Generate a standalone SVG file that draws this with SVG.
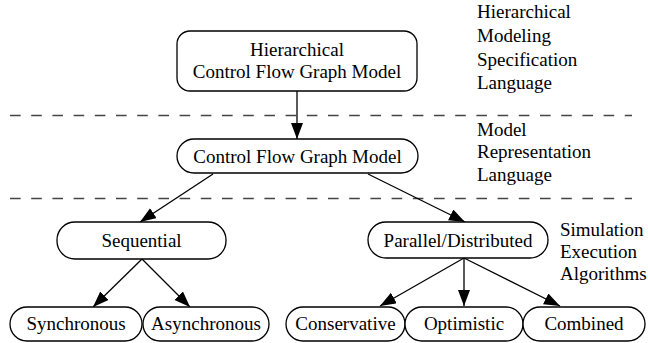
<svg xmlns="http://www.w3.org/2000/svg" width="648" height="343" viewBox="0 0 648 343">
<style>
.n{fill:#fff;stroke:#000;stroke-width:1.3}
text{font-family:"Liberation Serif","Times New Roman",Times,serif;font-size:19px;fill:#000}
.c{text-anchor:middle}
.e{stroke:#000;stroke-width:1.3;fill:none;marker-end:url(#ah)}
.d{stroke:#444;stroke-width:1.3;stroke-dasharray:10.6 10.6}
</style>
<defs>
<marker id="ah" markerUnits="userSpaceOnUse" markerWidth="18" markerHeight="14" refX="16" refY="6" orient="auto">
<path d="M0,0 L16,6 L0,12 z" fill="#000"/>
</marker>
</defs>
<rect width="648" height="343" fill="#fff"/>
<g id="separators">
<line class="d" x1="10" y1="115.5" x2="632" y2="115.5"/>
<line class="d" x1="10" y1="198.5" x2="632" y2="198.5"/>
</g>
<g id="labels">
<text x="477" y="18">Hierarchical</text>
<text x="477" y="42">Modeling</text>
<text x="477" y="66">Specification</text>
<text x="477" y="89">Language</text>
<text x="477" y="136">Model</text>
<text x="477" y="158">Representation</text>
<text x="477" y="181">Language</text>
<text x="560" y="236">Simulation</text>
<text x="560" y="258">Execution</text>
<text x="560" y="280">Algorithms</text>
</g>
<g id="connectors">
<line class="e" x1="297" y1="91" x2="297" y2="139"/>
<line class="e" x1="213" y1="174" x2="140" y2="222"/>
<line class="e" x1="368" y1="174" x2="465" y2="222"/>
<line class="e" x1="142" y1="259" x2="93" y2="307"/>
<line class="e" x1="142" y1="259" x2="190" y2="307"/>
<line class="e" x1="464" y1="258" x2="380" y2="306"/>
<line class="e" x1="464" y1="258" x2="464" y2="306"/>
<line class="e" x1="464" y1="258" x2="560" y2="306"/>
</g>
<g id="hcfg"><rect class="n" x="177" y="31" width="240" height="60" rx="13"/><text class="c" x="297" y="56">Hierarchical</text><text class="c" x="297" y="78">Control Flow Graph Model</text></g>
<g id="cfg"><rect class="n" x="177" y="139" width="241" height="34" rx="17"/><text class="c" x="297.5" y="163">Control Flow Graph Model</text></g>
<g id="sequential"><rect class="n" x="57" y="222" width="169" height="37" rx="18"/><text class="c" x="141.5" y="247">Sequential</text></g>
<g id="parallel"><rect class="n" x="368" y="222" width="180" height="36" rx="18"/><text class="c" x="458" y="247">Parallel/Distributed</text></g>
<g id="synchronous"><rect class="n" x="10" y="307" width="132" height="34" rx="17"/><text class="c" x="76" y="330">Synchronous</text></g>
<g id="asynchronous"><rect class="n" x="143" y="307" width="126" height="34" rx="17"/><text class="c" x="206" y="330">Asynchronous</text></g>
<g id="conservative"><rect class="n" x="286" y="307" width="119" height="34" rx="17"/><text class="c" x="345.5" y="330">Conservative</text></g>
<g id="optimistic"><rect class="n" x="405" y="307" width="118" height="34" rx="17"/><text class="c" x="464" y="330">Optimistic</text></g>
<g id="combined"><rect class="n" x="523" y="307" width="122" height="34" rx="17"/><text class="c" x="584" y="330">Combined</text></g>
</svg>
